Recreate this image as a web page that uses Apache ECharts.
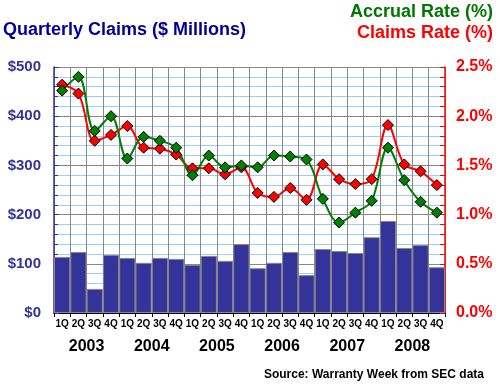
<!DOCTYPE html>
<html><head><meta charset="utf-8">
<script src="https://cdn.jsdelivr.net/npm/echarts@6/dist/echarts.min.js"></script>
<style>html,body{margin:0;padding:0;background:#fff}#c{width:500px;height:385px}</style>
</head><body><div id="c"></div>
<script>
const quarters = ['1Q','2Q','3Q','4Q','1Q','2Q','3Q','4Q','1Q','2Q','3Q','4Q','1Q','2Q','3Q','4Q','1Q','2Q','3Q','4Q','1Q','2Q','3Q','4Q'];
const years = ['2003','2004','2005','2006','2007','2008'];
const claims = [114,124,49,118,112,102,112,110,98,116,106,140,91,102,124,77,130,126,122,154,187,132,138,93];
const accrualRate = [2.26,2.40,1.85,2.00,1.57,1.79,1.75,1.68,1.40,1.60,1.48,1.50,1.48,1.60,1.59,1.56,1.16,0.92,1.02,1.14,1.68,1.35,1.13,1.02];
const claimsRate = [2.32,2.23,1.75,1.81,1.90,1.68,1.67,1.61,1.47,1.47,1.41,1.48,1.22,1.18,1.27,1.15,1.51,1.36,1.31,1.36,1.91,1.51,1.44,1.30];
const leftTicks = ['$0','$100','$200','$300','$400','$500'];

const chart = echarts.init(document.getElementById('c'), null, {renderer:'canvas'});
const F = 'Liberation Sans, Arial, sans-serif';
chart.setOption({
  animation: false,
  backgroundColor: '#fff',
  title: [
    {text:'Quarterly Claims ($ Millions)', left:3, top:21, padding:0, textStyle:{color:'#000099', fontFamily:F, fontWeight:'bold', fontSize:18}},
    {text:'Accrual Rate (%)', right:7, top:3, padding:0, textStyle:{color:'#007700', fontFamily:F, fontWeight:'bold', fontSize:18}},
    {text:'Claims Rate (%)', right:7, top:24, padding:0, textStyle:{color:'#ff0000', fontFamily:F, fontWeight:'bold', fontSize:18}},
    {text:'Source: Warranty Week from SEC data', right:16, top:369, padding:0, textStyle:{color:'#000', fontFamily:F, fontWeight:'bold', fontSize:12}}
  ],
  grid: {left:54, right:55, top:67, bottom:72},
  xAxis: [
    {type:'category', data:quarters, boundaryGap:true,
     axisLine:{lineStyle:{color:'#000'}}, axisTick:{show:true, length:4, lineStyle:{color:'#000'}},
     axisLabel:{interval:0, color:'#000', fontFamily:F, fontWeight:'bold', fontSize:10, margin:6},
     splitLine:{show:true, interval:0, lineStyle:{color:'#888', width:1}}},
    {type:'category', data:years, position:'bottom', offset:19,
     axisLine:{show:false}, axisTick:{show:false}, splitLine:{show:false},
     axisLabel:{color:'#000', fontFamily:F, fontWeight:'bold', fontSize:16, margin:7}}
  ],
  yAxis: [
    {type:'value', min:0, max:500, interval:100, position:'left',
     axisLine:{show:true, lineStyle:{color:'#333399', width:1.5}},
     axisTick:{show:true, inside:true, length:5, lineStyle:{color:'#333399'}},
     minorTick:{show:true, splitNumber:5, length:4, lineStyle:{color:'#333399'}},
     axisLabel:{formatter:(v)=>leftTicks[Math.round(v/100)], color:'#333399', fontFamily:F, fontWeight:'bold', fontSize:15, margin:13},
     splitLine:{show:true, lineStyle:{color:'#888', width:1}},
     minorSplitLine:{show:true, lineStyle:{color:'#99ccff', width:1}}},
    {type:'value', min:0, max:2.5, interval:0.5, position:'right',
     axisLine:{show:true, lineStyle:{color:'#ff0000', width:1.5}},
     axisTick:{show:true, inside:true, length:5, lineStyle:{color:'#ff0000'}},
     minorTick:{show:true, splitNumber:5, length:5, lineStyle:{color:'#ff0000'}},
     axisLabel:{formatter:(v)=>v.toFixed(1)+'%', color:'#ff0000', fontFamily:F, fontWeight:'bold', fontSize:16, margin:11},
     splitLine:{show:false}}
  ],
  series: [
    {name:'Quarterly Claims', type:'bar', data:claims, xAxisIndex:0, yAxisIndex:0,
     barCategoryGap:'0%', itemStyle:{color:'#333399', borderColor:'#888', borderWidth:1}},
    {name:'Claims Rate (%)', type:'line', data:claimsRate, yAxisIndex:1, smooth:0.35,
     lineStyle:{color:'#ff0000', width:2}, symbol:'diamond', symbolSize:11,
     itemStyle:{color:'#ff0000', borderColor:'#000', borderWidth:1}},
    {name:'Accrual Rate (%)', type:'line', data:accrualRate, yAxisIndex:1, smooth:0.35,
     lineStyle:{color:'#008000', width:2}, symbol:'diamond', symbolSize:11,
     itemStyle:{color:'#008000', borderColor:'#000', borderWidth:1}}
  ]
});
</script></body></html>
